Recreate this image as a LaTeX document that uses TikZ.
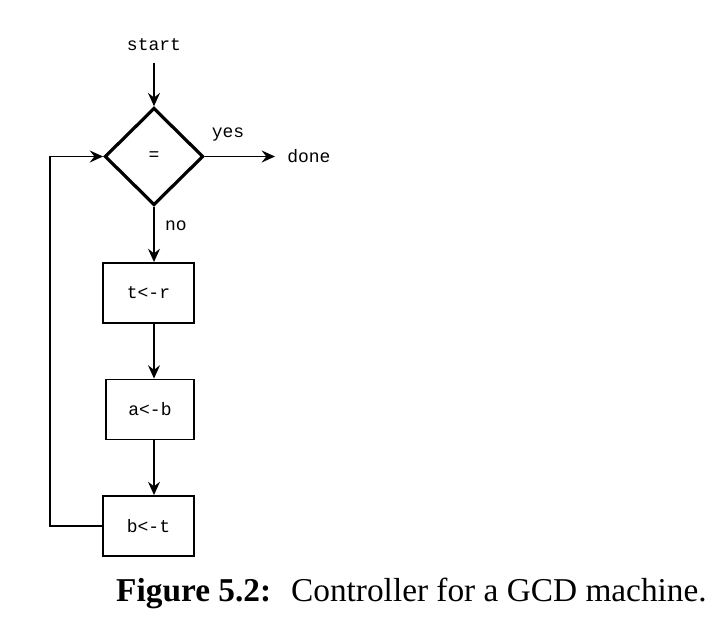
\documentclass[tikz,border=0pt]{standalone}
\usepackage{fontspec}
\setmainfont{Liberation Serif}
\setmonofont{Liberation Mono}
\usetikzlibrary{arrows.meta,shapes.geometric}
\begin{document}
\begin{tikzpicture}[x=0.75pt,y=-0.75pt,
  lbl/.style={font=\ttfamily\fontsize{13.5}{15}\selectfont, inner sep=0pt},
  box/.style={draw, line width=1.4pt, minimum width=68pt, minimum height=45pt, inner sep=0pt, font=\ttfamily\fontsize{13.5}{15}\selectfont},
  dec/.style={draw, shape=diamond, line width=2.4pt, minimum width=74pt, minimum height=73pt, inner sep=0pt, font=\ttfamily\fontsize{13.5}{15}\selectfont},
  arr/.style={line width=1.4pt, -{Stealth[length=10pt,width=9pt,inset=3.5pt]}},
]
\useasboundingbox (0,0) rectangle (722,620);

\node[lbl] (start) at (154,45) {start};
\coordinate (s0) at (154,63);
\node[dec] (d) at (154,156.5) {=};
\node[lbl] (yes) at (228,135) {yes};
\node[lbl, anchor=west] (done) at (287,156.5) {done};
\node[lbl] (no) at (176,226) {no};

\node[box] (b1) at (148.5,293) {t<-r};
\node[box, minimum width=66pt] (b2) at (150,409.5) {a<-b};
\node[box] (b3) at (148.5,526) {b<-t};

\coordinate (lp) at (50,0);

\draw[arr] (s0) -- (d.north);
\draw[arr, shorten >=9pt] (d.east) -- (done.west);
\draw[arr] (d.south) -- (d.south |- b1.north);
\draw[arr] (d.south |- b1.south) -- (d.south |- b2.north);
\draw[arr] (d.south |- b2.south) -- (d.south |- b3.north);
\draw[arr] (b3.west) -- (b3.west -| lp) |- (d.west);

\node[font=\fontsize{25}{30}\selectfont, inner sep=0pt] (cap) at (411.5,593)
  {\textbf{Figure 5.2:}\hspace{0.6em}Controller for a GCD machine.};
\end{tikzpicture}
\end{document}
